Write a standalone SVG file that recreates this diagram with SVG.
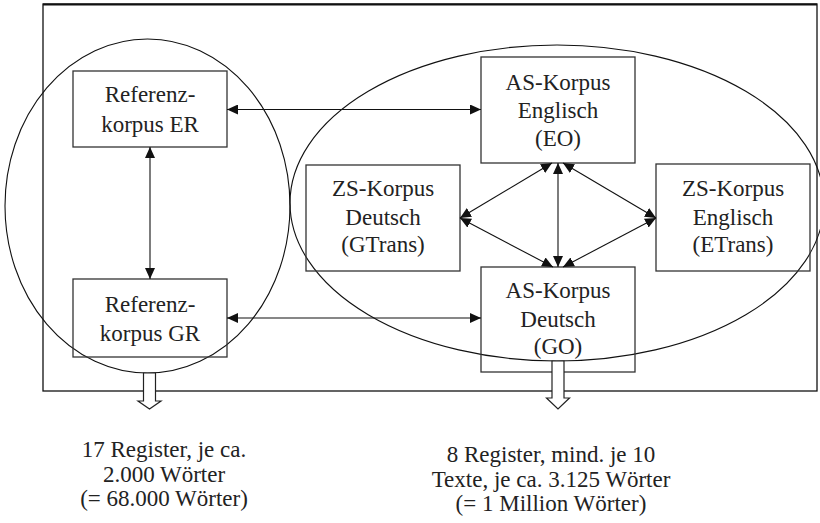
<svg xmlns="http://www.w3.org/2000/svg" width="820" height="523" viewBox="0 0 820 523">
<style>
.t{font-family:"Liberation Serif","Times New Roman",serif;font-size:23px;fill:#222;text-anchor:middle}
.b{fill:#fff;stroke:#333;stroke-width:1.3}
.e{fill:none;stroke:#111;stroke-width:1.1}
.c{fill:none;stroke:#111;stroke-width:1.1}
.h{fill:#fff;stroke:#222;stroke-width:1.2}
</style>
<defs>
<marker id="ah" markerUnits="userSpaceOnUse" markerWidth="12" markerHeight="10" refX="11" refY="5" orient="auto-start-reverse">
<path d="M0,0 L11,5 L0,10 Z" fill="#111"/>
</marker>
</defs>
<rect x="0" y="0" width="820" height="523" fill="#fff"/>
<g id="frame">
<rect x="43" y="4" width="774" height="387" fill="none" stroke="#111" stroke-width="1.3"/>
<line x1="43" y1="4.5" x2="817" y2="4.5" stroke="#111" stroke-width="2"/>
</g>
<g id="groups">
<ellipse class="e" cx="147.5" cy="206" rx="142.5" ry="167"/>
<ellipse class="e" cx="557" cy="203" rx="267" ry="158"/>
</g>
<g id="ER">
<rect class="b" x="73" y="71" width="154" height="76" fill-opacity="0"/>
<text class="t" x="150" y="102">Referenz-</text>
<text class="t" x="150" y="132">korpus ER</text>
</g>
<g id="GR">
<rect class="b" x="73" y="279" width="154" height="78" fill-opacity="0"/>
<text class="t" x="150" y="312">Referenz-</text>
<text class="t" x="150" y="341">korpus GR</text>
</g>
<g id="EO">
<rect class="b" x="481" y="57" width="154" height="106" fill-opacity="0"/>
<text class="t" x="558" y="90">AS-Korpus</text>
<text class="t" x="558" y="118">Englisch</text>
<text class="t" x="558" y="146">(EO)</text>
</g>
<g id="GTrans">
<rect class="b" x="306" y="165" width="154" height="106" fill-opacity="0"/>
<text class="t" x="383" y="196">ZS-Korpus</text>
<text class="t" x="383" y="225">Deutsch</text>
<text class="t" x="383" y="252">(GTrans)</text>
</g>
<g id="ETrans">
<rect class="b" x="656" y="164" width="154" height="107" fill-opacity="0"/>
<text class="t" x="733" y="196">ZS-Korpus</text>
<text class="t" x="733" y="225">Englisch</text>
<text class="t" x="733" y="252">(ETrans)</text>
</g>
<g id="GO">
<rect class="b" x="481" y="267" width="154" height="105" fill-opacity="0"/>
<text class="t" x="558" y="298">AS-Korpus</text>
<text class="t" x="558" y="327">Deutsch</text>
<text class="t" x="558" y="354">(GO)</text>
</g>
<g id="connectors">
<line class="c" x1="227" y1="109.5" x2="481" y2="109.5" marker-start="url(#ah)" marker-end="url(#ah)"/>
<line class="c" x1="227" y1="318" x2="481" y2="318" marker-start="url(#ah)" marker-end="url(#ah)"/>
<line class="c" x1="150" y1="147" x2="150" y2="279" marker-start="url(#ah)" marker-end="url(#ah)"/>
<line class="c" x1="558" y1="163" x2="558" y2="267" marker-start="url(#ah)" marker-end="url(#ah)"/>
<line class="c" x1="552" y1="163" x2="460" y2="218" marker-start="url(#ah)" marker-end="url(#ah)"/>
<line class="c" x1="563" y1="163" x2="656" y2="218" marker-start="url(#ah)" marker-end="url(#ah)"/>
<line class="c" x1="460" y1="218" x2="553" y2="267" marker-start="url(#ah)" marker-end="url(#ah)"/>
<line class="c" x1="656" y1="218" x2="563" y2="267" marker-start="url(#ah)" marker-end="url(#ah)"/>
<path class="h" d="M143.5,373 L155.5,373 L155.5,401 L161,401 L149.5,409 L138,401 L143.5,401 Z"/>
<path class="h" d="M552,361 L564,361 L564,398 L569.5,398 L558,409 L546.5,398 L552,398 Z"/>
</g>
<g id="notes">
<text class="t" x="164" y="457">17 Register, je ca.</text>
<text class="t" x="164" y="482">2.000 Wörter</text>
<text class="t" x="164" y="506">(= 68.000 Wörter)</text>
<text class="t" x="551" y="462">8 Register, mind. je 10</text>
<text class="t" x="551" y="487">Texte, je ca. 3.125 Wörter</text>
<text class="t" x="551" y="511">(= 1 Million Wörter)</text>
</g>
</svg>
